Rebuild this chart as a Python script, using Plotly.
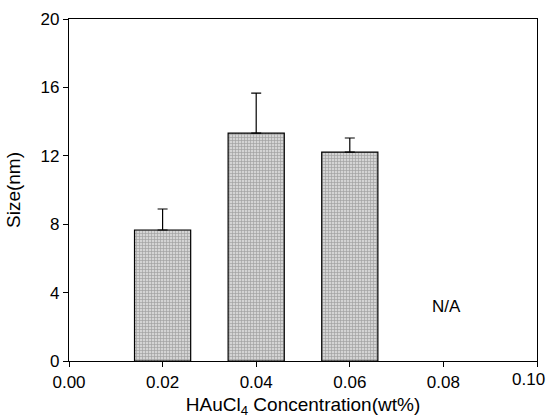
import plotly.graph_objects as go

concentration = [0.02, 0.04, 0.06]
size_nm = [7.66, 13.33, 12.22]
size_err_plus = [1.23, 2.34, 0.82]
x_ticks = [0.00, 0.02, 0.04, 0.06, 0.08, 0.10]
x_tick_labels = ["0.00", "0.02", "0.04", "0.06", "0.08", ""]
last_x_label = "0.10"
y_ticks = [0, 4, 8, 12, 16, 20]
na_label_x = 0.0807
na_label_y = 3.16

fig = go.Figure()
fig.add_trace(go.Bar(
    x=concentration,
    y=size_nm,
    width=0.012,
    marker=dict(
        color="#c8c8c8",
        line=dict(color="black", width=1.2),
        pattern=dict(shape="+", size=3, solidity=0.4, fgcolor="#6e6e6e", bgcolor="#d4d4d4"),
    ),
    error_y=dict(type="data", symmetric=False, array=size_err_plus,
                 arrayminus=[0, 0, 0], color="black", thickness=1.2, width=5),
    showlegend=False,
))

fig.add_annotation(x=na_label_x, y=na_label_y, text="N/A", showarrow=False,
                   font=dict(size=17, color="black"))

# last x tick label, nudged left so it stays inside the page as in the reference
fig.add_annotation(x=x_ticks[-1], xref="x", y=0, yref="paper", text=last_x_label,
                   showarrow=False, xanchor="right", yanchor="middle",
                   xshift=10, yshift=-18, font=dict(size=17, color="black"))

axis_common = dict(showline=True, linecolor="black", linewidth=1.2, mirror=True,
                   ticks="outside", ticklen=5, tickcolor="black", showgrid=False,
                   zeroline=False, tickfont=dict(size=17, color="black"))

fig.update_layout(
    width=550, height=418,
    margin=dict(l=69, r=13, t=19, b=57),
    paper_bgcolor="white", plot_bgcolor="white",
    font=dict(family="Liberation Sans, Arial, sans-serif", color="black"),
    xaxis=dict(range=[0, 0.1], tickvals=x_ticks, ticktext=x_tick_labels,
               title=dict(text="HAuCl<sub>4</sub> Concentration(wt%)", font=dict(size=19), standoff=7),
               automargin=False, **axis_common),
    yaxis=dict(range=[0, 20], tickvals=y_ticks,
               title=dict(text="Size(nm)", font=dict(size=19), standoff=14),
               automargin=False, **axis_common),
)

fig.write_html("out.html")
